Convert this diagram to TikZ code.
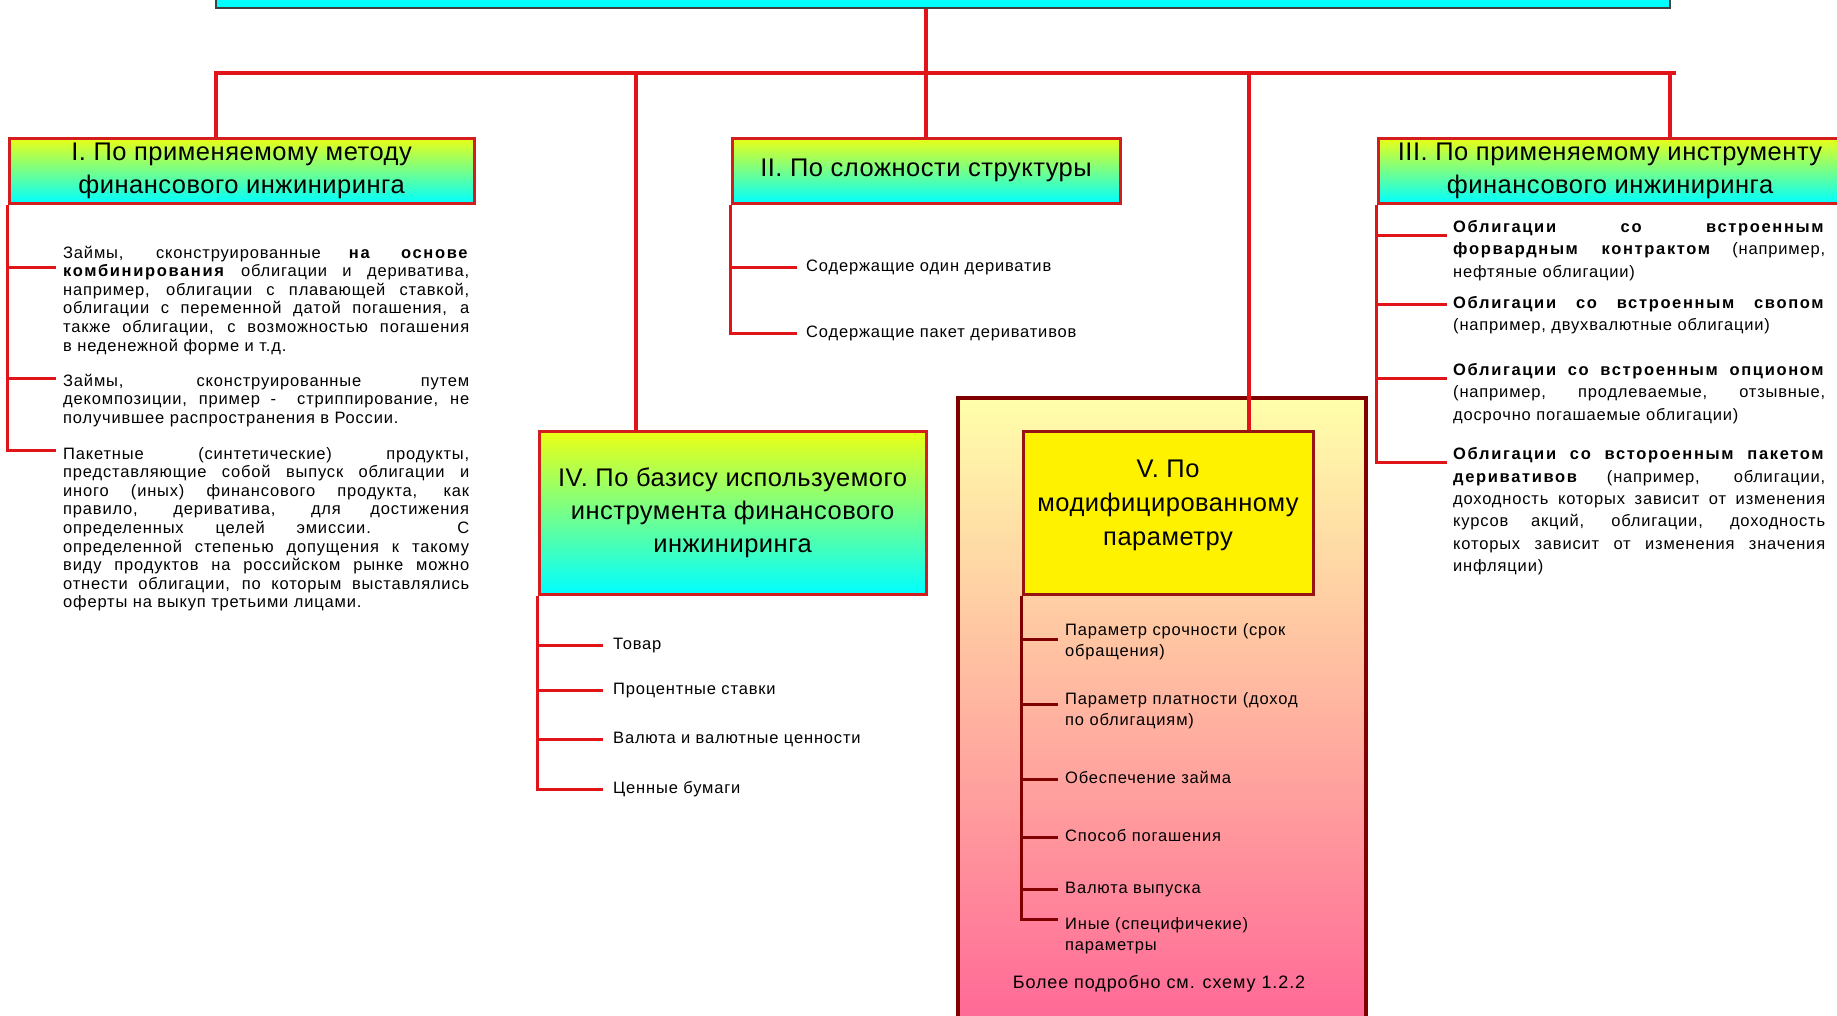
\documentclass[tikz,border=0pt]{standalone}
\usepackage{fontspec}
\setmainfont{Liberation Sans}[LetterSpace=5,BoldFeatures={LetterSpace=10}]
\usetikzlibrary{positioning}
\definecolor{linered}{RGB}{225,20,25}
\definecolor{boxred}{RGB}{210,30,30}
\definecolor{darkred}{RGB}{128,0,0}
\definecolor{vborder}{RGB}{150,20,20}
\definecolor{headtop}{RGB}{235,255,20}
\definecolor{headbot}{RGB}{0,255,255}
\definecolor{frametop}{RGB}{255,255,170}
\definecolor{framebot}{RGB}{255,100,150}
\tikzset{
	hbox/.style={draw=boxred,line width=3pt,align=center,inner sep=0pt,font=\fontsize{25.5}{33}\selectfont\addfontfeature{LetterSpace=2}},
	head/.style={hbox,top color=headtop,bottom color=headbot},
	conn/.style={draw=linered,line width=4pt},
	branch/.style={draw=linered,line width=3pt},
	vbranch/.style={draw=darkred,line width=3pt},
	item/.style={anchor=base west,inner ysep=0pt,inner xsep=8pt,font=\fontsize{16.5}{19}\selectfont},
	para/.style={item,inner xsep=7pt,text width=406pt,align=justify,font=\fontsize{16.5}{18.6}\selectfont},
	rpara/.style={item,inner xsep=6pt,text width=372pt,align=justify,font=\fontsize{16.5}{22.3}\selectfont},
	vitem/.style={item,inner xsep=7pt,text width=250pt,align=left,font=\fontsize{16.5}{21}\selectfont},
}
\begin{document}
\begin{tikzpicture}[x=1pt,y=-1pt]
	\useasboundingbox (0,0) rectangle (1837,1015);
	\clip (0,0) rectangle (1837,1015);
	
	\node[draw=black!75,line width=2pt,fill=headbot,minimum width=1454pt,minimum height=48pt] (top) at (943,-16) {};
	\node[draw=darkred,line width=4pt,top color=frametop,bottom color=framebot,minimum width=408pt,minimum height=642pt] (frame) at (1162,719) {};
	
	\node[head,minimum width=465pt,minimum height=65pt] (b1) at (241.5,170.5) {I. По применяемому методу\\финансового инжиниринга};
	\node[head,minimum width=388pt,minimum height=65pt] (b2) at (926,170.5) {II. По сложности структуры};
	\node[head,minimum width=464pt,minimum height=65pt] (b3) at (1610,170.5) {III. По применяемому инструменту\\финансового инжиниринга};
	\node[head,minimum width=387pt,minimum height=163pt] (b4) at (732.5,512.5) {IV. По базису используемого\\инструмента финансового\\инжиниринга};
	\node[hbox,draw=vborder,fill=yellow,minimum width=290pt,minimum height=163pt,font=\fontsize{25.5}{34}\selectfont\addfontfeature{LetterSpace=2}] (b5) at (1168,512.5) {V. По\\модифицированному\\параметру\\[-14pt]\mbox{}};
	
	\coordinate (j1) at (216,73);
	\coordinate (j4) at (636,73);
	\coordinate (j5) at (1249,73);
	\coordinate (j3) at (1670,73);
	\coordinate (jend) at (1676,73);
	\draw[conn] (j1 |- b1.north) -- (j1) -- (jend);
	\draw[conn] (top.south -| b2.north) -- (b2.north);
	\draw[conn] (j4) -- (j4 |- b4.north);
	\draw[conn] (j5) -- (j5 |- b5.north);
	\draw[conn] (j3) -- (j3 |- b3.north);
	
	% I
	\node[para] (t11) at (56,258) {Займы, сконструированные \textbf{на основе}\linebreak \textbf{комбинирования} облигации и деривативa,\linebreak например, облигации с плавающей ставкой,\linebreak облигации с переменной датой погашения, а\linebreak также облигации, с возможностью погашения\linebreak в неденежной форме и т.д.};
	\node[para] (t12) at (56,386) {Займы, сконструированные путем\linebreak декомпозиции, пример -\ \ стриппирование, не\linebreak получившее распространения в России.};
	\node[para] (t13) at (56,459) {Пакетные (синтетические) продукты,\linebreak представляющие собой выпуск облигации и\linebreak иного (иных) финансового продукта, как\linebreak правило, дериватива, для достижения\linebreak определенных целей эмиссии. С\linebreak определенной степенью допущения к такому\linebreak виду продуктов на российском рынке можно\linebreak отнести облигации, по которым выставлялись\linebreak оферты на выкуп третьими лицами.};
	\draw[branch] (b1.south west) |- ([yshift=-9pt]t11.base west);
	\draw[branch] (b1.south west) |- ([yshift=8pt]t12.base west);
	\draw[branch] (b1.south west) |- ([yshift=9pt]t13.base west);
	
	% II
	\node[item,inner xsep=9pt] (t21) at (797,271) {Содержащие один дериватив};
	\node[item,inner xsep=9pt] (t22) at (797,337) {Содержащие пакет деривативов};
	\draw[branch] (b2.south west) |- ([yshift=4pt]t21.base west);
	\draw[branch] (b2.south west) |- ([yshift=4pt]t22.base west);
	
	% III
	\node[rpara] (t31) at (1447,232.5) {\textbf{Облигации со встроенным}\linebreak \textbf{форвардным контрактом} (например,\linebreak нефтяные облигации)};
	\node[rpara] (t32) at (1447,308.6) {\textbf{Облигации со встроенным свопом}\linebreak (например, двухвалютные облигации)};
	\node[rpara] (t33) at (1447,375.4) {\textbf{Облигации со встроенным опционом}\linebreak (например, продлеваемые, отзывные,\linebreak досрочно погашаемые облигации)};
	\node[rpara] (t34) at (1447,459.8) {\textbf{Облигации со встороенным пакетом}\linebreak \textbf{деривативов} (например, облигации,\linebreak доходность которых зависит от изменения\linebreak курсов акций, облигации, доходность\linebreak которых зависит от изменения значения\linebreak инфляции)};
	\draw[branch] (b3.south west) |- ([yshift=-3pt]t31.base west);
	\draw[branch] (b3.south west) |- ([yshift=4pt]t32.base west);
	\draw[branch] (b3.south west) |- ([yshift=-3pt]t33.base west);
	\draw[branch] (b3.south west) |- ([yshift=-3pt]t34.base west);
	
	% IV
	\node[item,inner xsep=10pt] (t41) at (603,649.5) {Товар};
	\node[item,inner xsep=10pt] (t42) at (603,694) {Процентные ставки};
	\node[item,inner xsep=10pt] (t43) at (603,743) {Валюта и валютные ценности};
	\node[item,inner xsep=10pt] (t44) at (603,793.6) {Ценные бумаги};
	\foreach \t in {t41,t42,t43,t44}
		\draw[branch] (b4.south west) |- ([yshift=4pt]\t.base west);
	
	% V
	\node[vitem] (t51) at (1058,635.5) {Параметр срочности (срок\\обращения)};
	\node[vitem] (t52) at (1058,704.6) {Параметр платности (доход\\по облигациям)};
	\node[vitem] (t53) at (1058,783) {Обеспечение займа};
	\node[vitem] (t54) at (1058,841.7) {Способ погашения};
	\node[vitem] (t55) at (1058,893.2) {Валюта выпуска};
	\node[vitem] (t56) at (1058,929.6) {Иные (специфичекие)\\параметры};
	\draw[vbranch] (b5.south west) |- ([yshift=-4pt]t51.base west);
	\draw[vbranch] (b5.south west) |- (t52.base west);
	\foreach \t in {t53,t54,t55}
		\draw[vbranch] (b5.south west) |- ([yshift=4pt]\t.base west);
	\draw[vbranch] (b5.south west) |- ([yshift=10pt]t56.base west);
	\node[font=\fontsize{18}{22}\selectfont] (more) at (1159,984) {Более подробно см. схему 1.2.2};
\end{tikzpicture}
\end{document}
